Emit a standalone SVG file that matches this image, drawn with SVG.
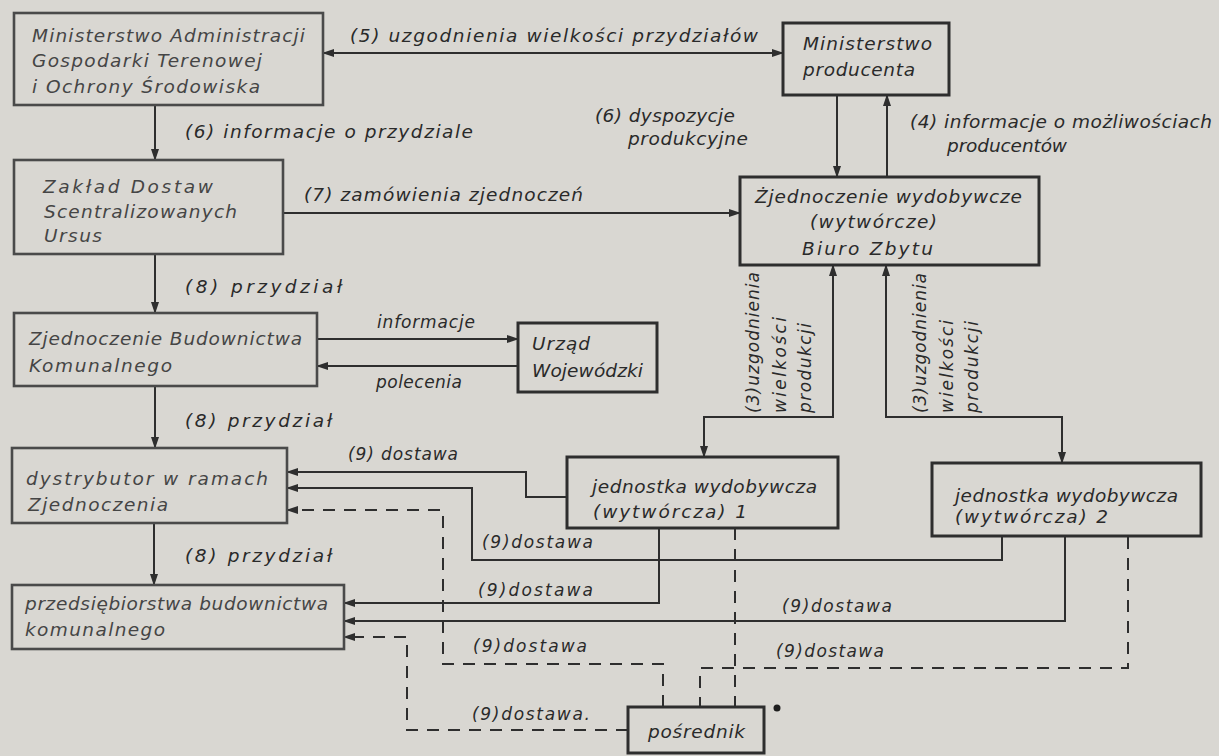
<svg xmlns="http://www.w3.org/2000/svg" width="1219" height="756" viewBox="0 0 1219 756">
<defs>
<marker id="arr" markerUnits="userSpaceOnUse" markerWidth="12" markerHeight="8" refX="11" refY="4" orient="auto-start-reverse">
<path d="M0,0 L12,4 L0,8 z" fill="#2e2e2e"/>
</marker>
</defs>
<style>
.bg{fill:#d9d7d2}
.box{fill:none;stroke:#2e2e2e;stroke-width:3}
.boxl{fill:none;stroke:#4a4a4a;stroke-width:2.6}
text{font-family:"DejaVu Sans","Liberation Sans",sans-serif;font-style:italic;font-size:18.5px;fill:#2a2a2a}
.tl{fill:#454545}
.lbl{font-size:17px}
.ln{fill:none;stroke:#2e2e2e;stroke-width:2}
.da{fill:none;stroke:#2e2e2e;stroke-width:2;stroke-dasharray:12 9}
.ae{marker-end:url(#arr)}
.ab{marker-start:url(#arr);marker-end:url(#arr)}
</style>
<rect class="bg" x="0" y="0" width="1219" height="756"/>

<g id="connectors">
<path class="ln ab" d="M323 53 H783"/>
<path class="ln ae" d="M155 105 V160"/>
<path class="ln ae" d="M283 213 H740"/>
<path class="ln ae" d="M837 95 V177"/>
<path class="ln ae" d="M887 177 V95"/>
<path class="ln ae" d="M155 254 V313"/>
<path class="ln ae" d="M317 339 H518"/>
<path class="ln ae" d="M518 366 H317"/>
<path class="ln ae" d="M155 386 V448"/>
<path class="ln ae" d="M154 523 V585"/>
<path class="ln ab" d="M704 457 V417 H833 V265"/>
<path class="ln ab" d="M1062 463 V417 H886 V265"/>
<path class="ln ae" d="M567 497 H526 V472 H287"/>
<path class="ln ae" d="M1002 536 V560 H472 V488 H287"/>
<path class="ln ae" d="M659 528 V603 H344"/>
<path class="ln ae" d="M1065 536 V621 H344"/>
<path class="da ae" d="M663 707 V664 H443 V510 H287"/>
<path class="da ae" d="M628 730 H407 V637 H344"/>
<path class="da" d="M735 528 V707"/>
<path class="da" d="M1128 537 V668 H700 V707"/>
<circle cx="777" cy="708" r="3.5" fill="#1e1e1e"/>
</g>

<g id="labels">
<text x="350" y="42" textLength="408" lengthAdjust="spacing">(5) uzgodnienia wielkości przydziałów</text>
<text x="185" y="138" textLength="288" lengthAdjust="spacing">(6) informacje o przydziale</text>
<text x="595" y="122" textLength="140" lengthAdjust="spacing">(6) dyspozycje</text>
<text x="628" y="145" textLength="120" lengthAdjust="spacing">produkcyjne</text>
<text x="910" y="128" textLength="302" lengthAdjust="spacing">(4) informacje o możliwościach</text>
<text x="947" y="152" textLength="120" lengthAdjust="spacing">producentów</text>
<text x="304" y="201" textLength="279" lengthAdjust="spacing">(7) zamówienia zjednoczeń</text>
<text x="185" y="293" textLength="157" lengthAdjust="spacing">(8) przydział</text>
<text class="lbl" x="377" y="328" textLength="98" lengthAdjust="spacing">informacje</text>
<text class="lbl" x="376" y="388" textLength="86" lengthAdjust="spacing">polecenia</text>
<text x="185" y="427" textLength="147" lengthAdjust="spacing">(8) przydział</text>
<text x="185" y="562" textLength="147" lengthAdjust="spacing">(8) przydział</text>
<text class="lbl" x="348" y="460" textLength="110" lengthAdjust="spacing">(9) dostawa</text>
<text class="lbl" x="482" y="548" textLength="111" lengthAdjust="spacing">(9)dostawa</text>
<text class="lbl" x="478" y="596" textLength="115" lengthAdjust="spacing">(9)dostawa</text>
<text class="lbl" x="782" y="612" textLength="110" lengthAdjust="spacing">(9)dostawa</text>
<text class="lbl" x="473" y="652" textLength="114" lengthAdjust="spacing">(9)dostawa</text>
<text class="lbl" x="776" y="657" textLength="108" lengthAdjust="spacing">(9)dostawa</text>
<text class="lbl" x="472" y="720" textLength="118" lengthAdjust="spacing">(9)dostawa.</text>
<text class="lbl" transform="translate(759 413) rotate(-90)" textLength="141" lengthAdjust="spacing">(3)uzgodnienia</text>
<text class="lbl" transform="translate(786 413) rotate(-90)" textLength="96" lengthAdjust="spacing">wielkości</text>
<text class="lbl" transform="translate(811 413) rotate(-90)" textLength="90" lengthAdjust="spacing">produkcji</text>
<text class="lbl" transform="translate(926 413) rotate(-90)" textLength="140" lengthAdjust="spacing">(3)uzgodnienia</text>
<text class="lbl" transform="translate(953 413) rotate(-90)" textLength="93" lengthAdjust="spacing">wielkości</text>
<text class="lbl" transform="translate(978 413) rotate(-90)" textLength="92" lengthAdjust="spacing">produkcji</text>
</g>

<g id="n-min-adm">
<rect class="boxl" x="14" y="13" width="309" height="92"/>
<text class="tl" x="32" y="42" textLength="273" lengthAdjust="spacing">Ministerstwo Administracji</text>
<text class="tl" x="32" y="67" textLength="230" lengthAdjust="spacing">Gospodarki Terenowej</text>
<text class="tl" x="32" y="93" textLength="228" lengthAdjust="spacing">i Ochrony Środowiska</text>
</g>
<g id="n-zaklad">
<rect class="boxl" x="14" y="160" width="269" height="94"/>
<text class="tl" x="43" y="193" textLength="170" lengthAdjust="spacing">Zakład Dostaw</text>
<text class="tl" x="44" y="218" textLength="193" lengthAdjust="spacing">Scentralizowanych</text>
<text class="tl" x="44" y="242" textLength="58" lengthAdjust="spacing">Ursus</text>
</g>
<g id="n-min-prod">
<rect class="box" x="783" y="23" width="166" height="72"/>
<text x="803" y="50" textLength="129" lengthAdjust="spacing">Ministerstwo</text>
<text x="803" y="76" textLength="112" lengthAdjust="spacing">producenta</text>
</g>
<g id="n-zjedn-wyd">
<rect class="box" x="740" y="177" width="299" height="88"/>
<text x="755" y="203" textLength="267" lengthAdjust="spacing">Żjednoczenie wydobywcze</text>
<text x="810" y="228" textLength="127" lengthAdjust="spacing">(wytwórcze)</text>
<text x="802" y="255" textLength="131" lengthAdjust="spacing">Biuro Zbytu</text>
</g>
<g id="n-zjedn-bud">
<rect class="boxl" x="14" y="313" width="303" height="73"/>
<text class="tl" x="29" y="345" textLength="273" lengthAdjust="spacing">Zjednoczenie Budownictwa</text>
<text class="tl" x="29" y="372" textLength="143" lengthAdjust="spacing">Komunalnego</text>
</g>
<g id="n-urzad">
<rect class="box" x="518" y="323" width="139" height="69"/>
<text x="532" y="350" textLength="58" lengthAdjust="spacing">Urząd</text>
<text x="532" y="377" textLength="111" lengthAdjust="spacing">Wojewódzki</text>
</g>
<g id="n-dystrybutor">
<rect class="boxl" x="12" y="448" width="275" height="75"/>
<text class="tl" x="26" y="485" textLength="242" lengthAdjust="spacing">dystrybutor w ramach</text>
<text class="tl" x="28" y="511" textLength="140" lengthAdjust="spacing">Zjednoczenia</text>
</g>
<g id="n-przeds">
<rect class="boxl" x="12" y="585" width="332" height="64"/>
<text class="tl" x="25" y="610" textLength="303" lengthAdjust="spacing">przedsiębiorstwa budownictwa</text>
<text class="tl" x="25" y="636" textLength="140" lengthAdjust="spacing">komunalnego</text>
</g>
<g id="n-jedn1">
<rect class="box" x="567" y="457" width="271" height="71"/>
<text x="592" y="493" textLength="225" lengthAdjust="spacing">jednostka wydobywcza</text>
<text x="593" y="518" textLength="154" lengthAdjust="spacing">(wytwórcza) 1</text>
</g>
<g id="n-jedn2">
<rect class="box" x="932" y="463" width="269" height="73"/>
<text x="955" y="502" textLength="223" lengthAdjust="spacing">jednostka wydobywcza</text>
<text x="955" y="523" textLength="153" lengthAdjust="spacing">(wytwórcza) 2</text>
</g>
<g id="n-posrednik">
<rect class="box" x="628" y="707" width="136" height="46"/>
<text x="648" y="738" textLength="97" lengthAdjust="spacing">pośrednik</text>
</g>
</svg>
